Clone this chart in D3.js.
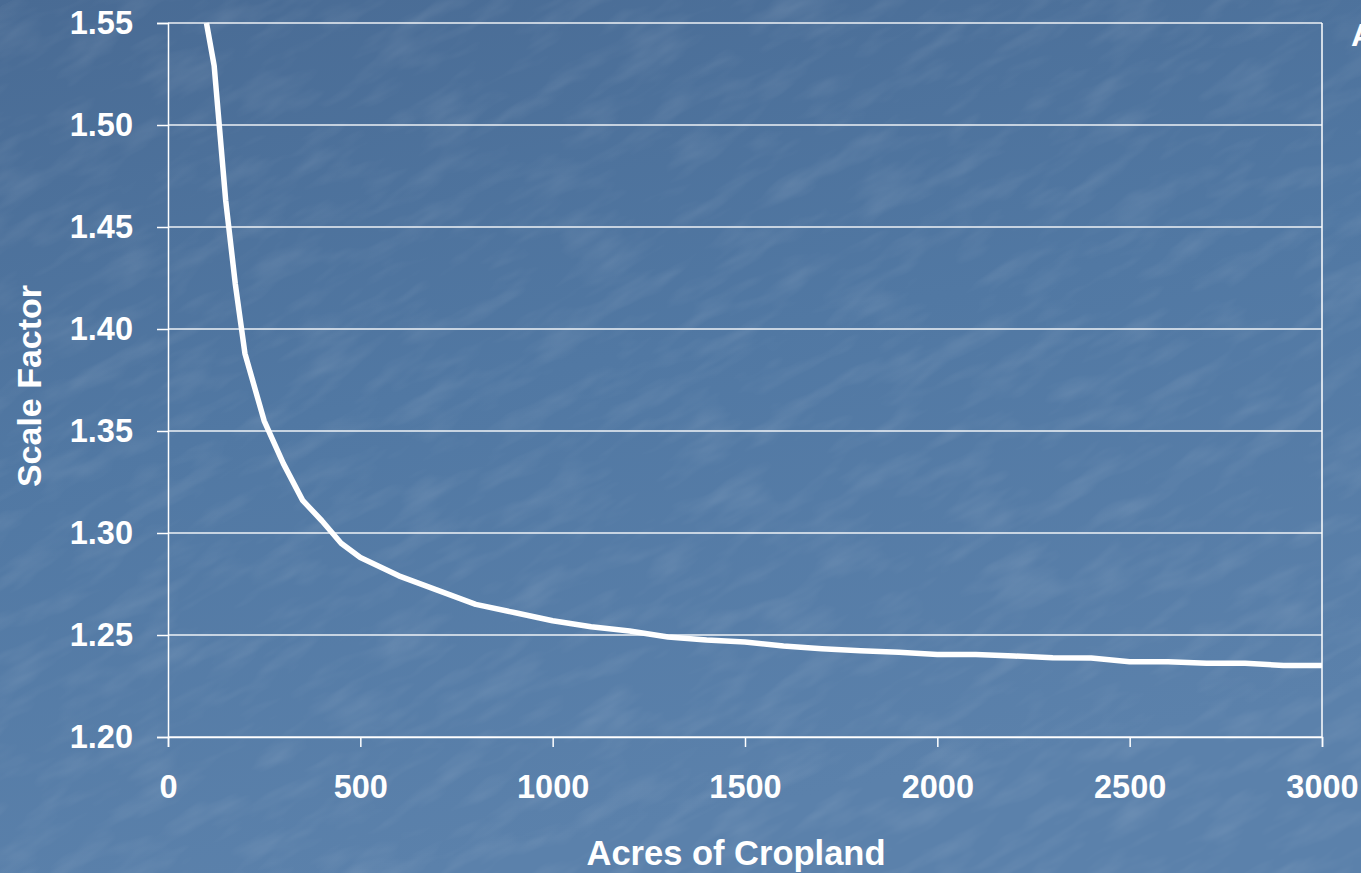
<!DOCTYPE html>
<html lang="en">
<head>
  <meta charset="UTF-8">
  <title>Scale Factor vs Acres of Cropland</title>
  <style>
    body {
      margin: 0;
      padding: 0;
      overflow: hidden;
      background-color: #5077a2;
    }
    svg {
      display: block;
      font-family: "Liberation Sans", Arial, sans-serif;
    }
  </style>
</head>
<body>
<div id="chart"></div>
<script src="https://d3js.org/d3.v7.min.js"></script>
<script>
  // values
  const acres = [100, 120, 150, 175, 200, 250, 300, 350, 400, 450, 500, 600, 700, 800, 900, 1000,
                 1100, 1200, 1300, 1400, 1500, 1600, 1700, 1800, 1900, 2000, 2100, 2200,
                 2300, 2400, 2500, 2600, 2700, 2800, 2900, 3000];
  const scaleFactor = [1.550, 1.529, 1.463, 1.422, 1.388, 1.355, 1.334, 1.316, 1.306, 1.295, 1.288,
                       1.279, 1.272, 1.265, 1.261, 1.257, 1.254, 1.252, 1.249, 1.2475, 1.2466,
                       1.2446, 1.2433, 1.2423, 1.2415, 1.2405, 1.2405, 1.2397, 1.2389, 1.2387,
                       1.2369, 1.2369, 1.2361, 1.2361, 1.2351, 1.2351];
  const xTicks = [0, 500, 1000, 1500, 2000, 2500, 3000];
  const yTicks = [1.20, 1.25, 1.30, 1.35, 1.40, 1.45, 1.50, 1.55];

  const width = 1361;
  const height = 873;
  const margin = { top: 23, right: 39, bottom: 136, left: 168 };
  const innerW = width - margin.left - margin.right;
  const innerH = height - margin.top - margin.bottom;

  const svg = d3.select("#chart").append("svg")
          .attr("width", width)
          .attr("height", height);

  // background: blue gradient with a faint texture
  const defs = svg.append("defs");
  const grad = defs.append("linearGradient")
          .attr("id", "bg").attr("x1", 0).attr("y1", 0).attr("x2", 0.3).attr("y2", 1);
  grad.append("stop").attr("offset", "0%").attr("stop-color", "#496b94");
  grad.append("stop").attr("offset", "50%").attr("stop-color", "#5178a3");
  grad.append("stop").attr("offset", "100%").attr("stop-color", "#5b81ab");

  const filt = defs.append("filter").attr("id", "tex")
          .attr("x", 0).attr("y", 0).attr("width", "100%").attr("height", "100%");
  filt.append("feTurbulence")
          .attr("type", "fractalNoise")
          .attr("baseFrequency", "0.014 0.05")
          .attr("numOctaves", 3)
          .attr("seed", 4);
  filt.append("feColorMatrix")
          .attr("type", "matrix")
          .attr("values", "0 0 0 0 1  0 0 0 0 1  0 0 0 0 1  1.2 0 0 0 -0.55");

  svg.append("rect")
          .attr("width", width).attr("height", height)
          .attr("fill", "url(#bg)");
  svg.append("rect")
          .attr("width", width * 1.6).attr("height", height * 1.6)
          .attr("transform", `translate(${-width * 0.3},${-height * 0.3}) rotate(-28 ${width * 0.8} ${height * 0.8})`)
          .attr("filter", "url(#tex)")
          .attr("opacity", 0.16);

  const g = svg.append("g")
          .attr("transform", `translate(${margin.left},${margin.top})`);

  const xScale = d3.scaleLinear().domain([0, 3000]).range([0, innerW]);
  const yScale = d3.scaleLinear().domain([1.20, 1.55]).range([innerH, 0]);

  // gridlines
  g.append("g")
          .selectAll("line")
          .data(yTicks)
          .enter()
          .append("line")
          .attr("x1", 0)
          .attr("x2", innerW)
          .attr("y1", d => yScale(d))
          .attr("y2", d => yScale(d))
          .attr("stroke", "#ffffff")
          .attr("stroke-opacity", 0.9)
          .attr("stroke-width", 1.5);

  // right border
  g.append("line")
          .attr("x1", innerW).attr("x2", innerW)
          .attr("y1", 0).attr("y2", innerH)
          .attr("stroke", "#ffffff")
          .attr("stroke-width", 1.5);

  const xAxis = g.append("g")
          .attr("transform", `translate(0,${innerH})`)
          .call(d3.axisBottom(xScale).tickValues(xTicks).tickFormat(d3.format("d")).tickSize(10).tickPadding(28));
  const yAxis = g.append("g")
          .call(d3.axisLeft(yScale).tickValues(yTicks).tickFormat(d3.format(".2f")).tickSize(11).tickPadding(24));

  [xAxis, yAxis].forEach(ax => {
    ax.select(".domain").attr("stroke", "#ffffff").attr("stroke-width", 1.5);
    ax.selectAll(".tick line").attr("stroke", "#ffffff").attr("stroke-width", 1.5);
    ax.selectAll(".tick text")
            .attr("fill", "#ffffff")
            .attr("font-size", 32.5)
            .attr("font-weight", "bold")
            .attr("font-family", "'Liberation Sans', Arial, sans-serif");
  });

  // data line
  const points = acres.map((a, i) => ({ x: a, y: scaleFactor[i] }));
  g.append("path")
          .datum(points)
          .attr("fill", "none")
          .attr("stroke", "#ffffff")
          .attr("stroke-width", 5.5)
          .attr("stroke-linejoin", "round")
          .attr("d", d3.line().x(d => xScale(d.x)).y(d => yScale(d.y)));

  // axis titles
  svg.append("text")
          .attr("x", 736)
          .attr("y", 865)
          .attr("text-anchor", "middle")
          .attr("fill", "#ffffff")
          .attr("font-size", 34.5)
          .attr("font-weight", "bold")
          .text("Acres of Cropland");

  svg.append("text")
          .attr("transform", "translate(41,386) rotate(-90)")
          .attr("text-anchor", "middle")
          .attr("fill", "#ffffff")
          .attr("font-size", 34)
          .attr("font-weight", "bold")
          .text("Scale Factor");

  // cut-off title at top right
  svg.append("text")
          .attr("x", 1351)
          .attr("y", 46)
          .attr("fill", "#ffffff")
          .attr("font-size", 32)
          .attr("font-weight", "bold")
          .text("A");
</script>
</body>
</html>
